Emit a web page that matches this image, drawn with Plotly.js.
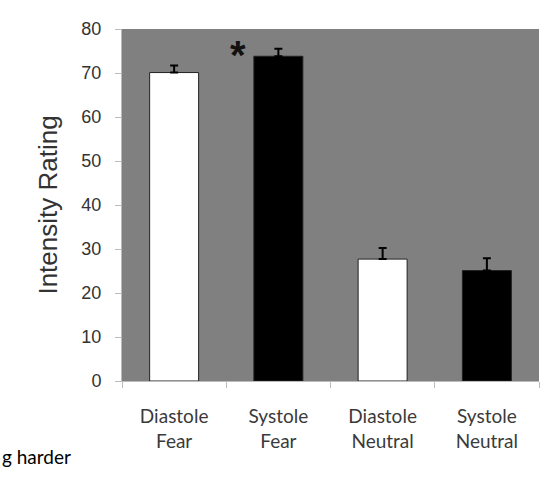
<!DOCTYPE html>
<html>
<head>
<meta charset="utf-8">
<script src="https://cdn.plot.ly/plotly-3.0.1.min.js"></script>
<style>
  html, body { margin: 0; padding: 0; background: #fff; }
  #chart { width: 558px; height: 484px; }
</style>
</head>
<body>
<div id="chart"></div>
<script>
// categories and values
const conditions = ['Diastole<br>Fear', 'Systole<br>Fear', 'Diastole<br>Neutral', 'Systole<br>Neutral'];
const intensity = [70.1, 73.8, 27.7, 25.1];
const errorPlus = [1.6, 1.7, 2.5, 2.8];
const barColors = ['#ffffff', '#000000', '#ffffff', '#000000'];
const yTicks = [0, 10, 20, 30, 40, 50, 60, 70, 80];

const data = [{
    x: conditions,
    y: intensity,
    type: 'bar',
    marker: {
        color: barColors,
        line: { color: '#222222', width: 1 }
    },
    error_y: {
        type: 'data',
        symmetric: false,
        array: errorPlus,
        arrayminus: [0, 0, 0, 0],
        color: '#000000',
        thickness: 2,
        width: 4
    },
    hoverinfo: 'none'
}];

const layout = {
    width: 558,
    height: 484,
    margin: { t: 29, r: 19, b: 103, l: 122 },
    paper_bgcolor: '#ffffff',
    plot_bgcolor: '#808080',
    showlegend: false,
    bargap: 0.53,
    font: { family: 'Arial, "Liberation Sans", sans-serif', color: '#333333' },
    xaxis: {
        type: 'category',
        tickson: 'boundaries',
        ticks: 'outside',
        ticklen: 6,
        tickcolor: '#bbbbbb',
        showline: true,
        linecolor: '#bbbbbb',
        linewidth: 1,
        showgrid: false,
        ticklabelstandoff: 18,
        tickfont: { family: 'Lato, "Open Sans", sans-serif', size: 19, color: '#3a3a3a' }
    },
    yaxis: {
        range: [0, 80],
        tickvals: yTicks,
        ticks: 'outside',
        ticklen: 6,
        tickcolor: '#bbbbbb',
        showline: true,
        linecolor: '#bbbbbb',
        linewidth: 1,
        showgrid: false,
        zeroline: false,
        ticklabelstandoff: 10,
        tickfont: { family: 'Arial, "Liberation Sans", sans-serif', size: 18, color: '#333333' },
        title: {
            text: 'Intensity Rating',
            standoff: 16,
            font: { family: 'Arial, "Liberation Sans", sans-serif', size: 26, color: '#333333' }
        }
    },
    annotations: [
        {
            x: 0.61, y: 75.3, xref: 'x', yref: 'y',
            text: '<b>*</b>', showarrow: false,
            font: { family: 'Arial, "Liberation Sans", sans-serif', size: 40, color: '#111111' },
            yshift: -5
        },
        {
            x: 0, y: 0, xref: 'paper', yref: 'paper',
            text: 'g harder', showarrow: false,
            xanchor: 'left', yanchor: 'middle',
            font: { family: 'Lato, "Open Sans", sans-serif', size: 19, color: '#000000' }
        }
    ]
};

// the page label sits at a fixed pixel height below the axis
layout.annotations[1].y = -(456 - (484 - 103)) / (484 - 29 - 103);
layout.annotations[1].x = -122 / (558 - 122 - 19);

Plotly.newPlot('chart', data, layout, { displayModeBar: false, staticPlot: true });
</script>
</body>
</html>
